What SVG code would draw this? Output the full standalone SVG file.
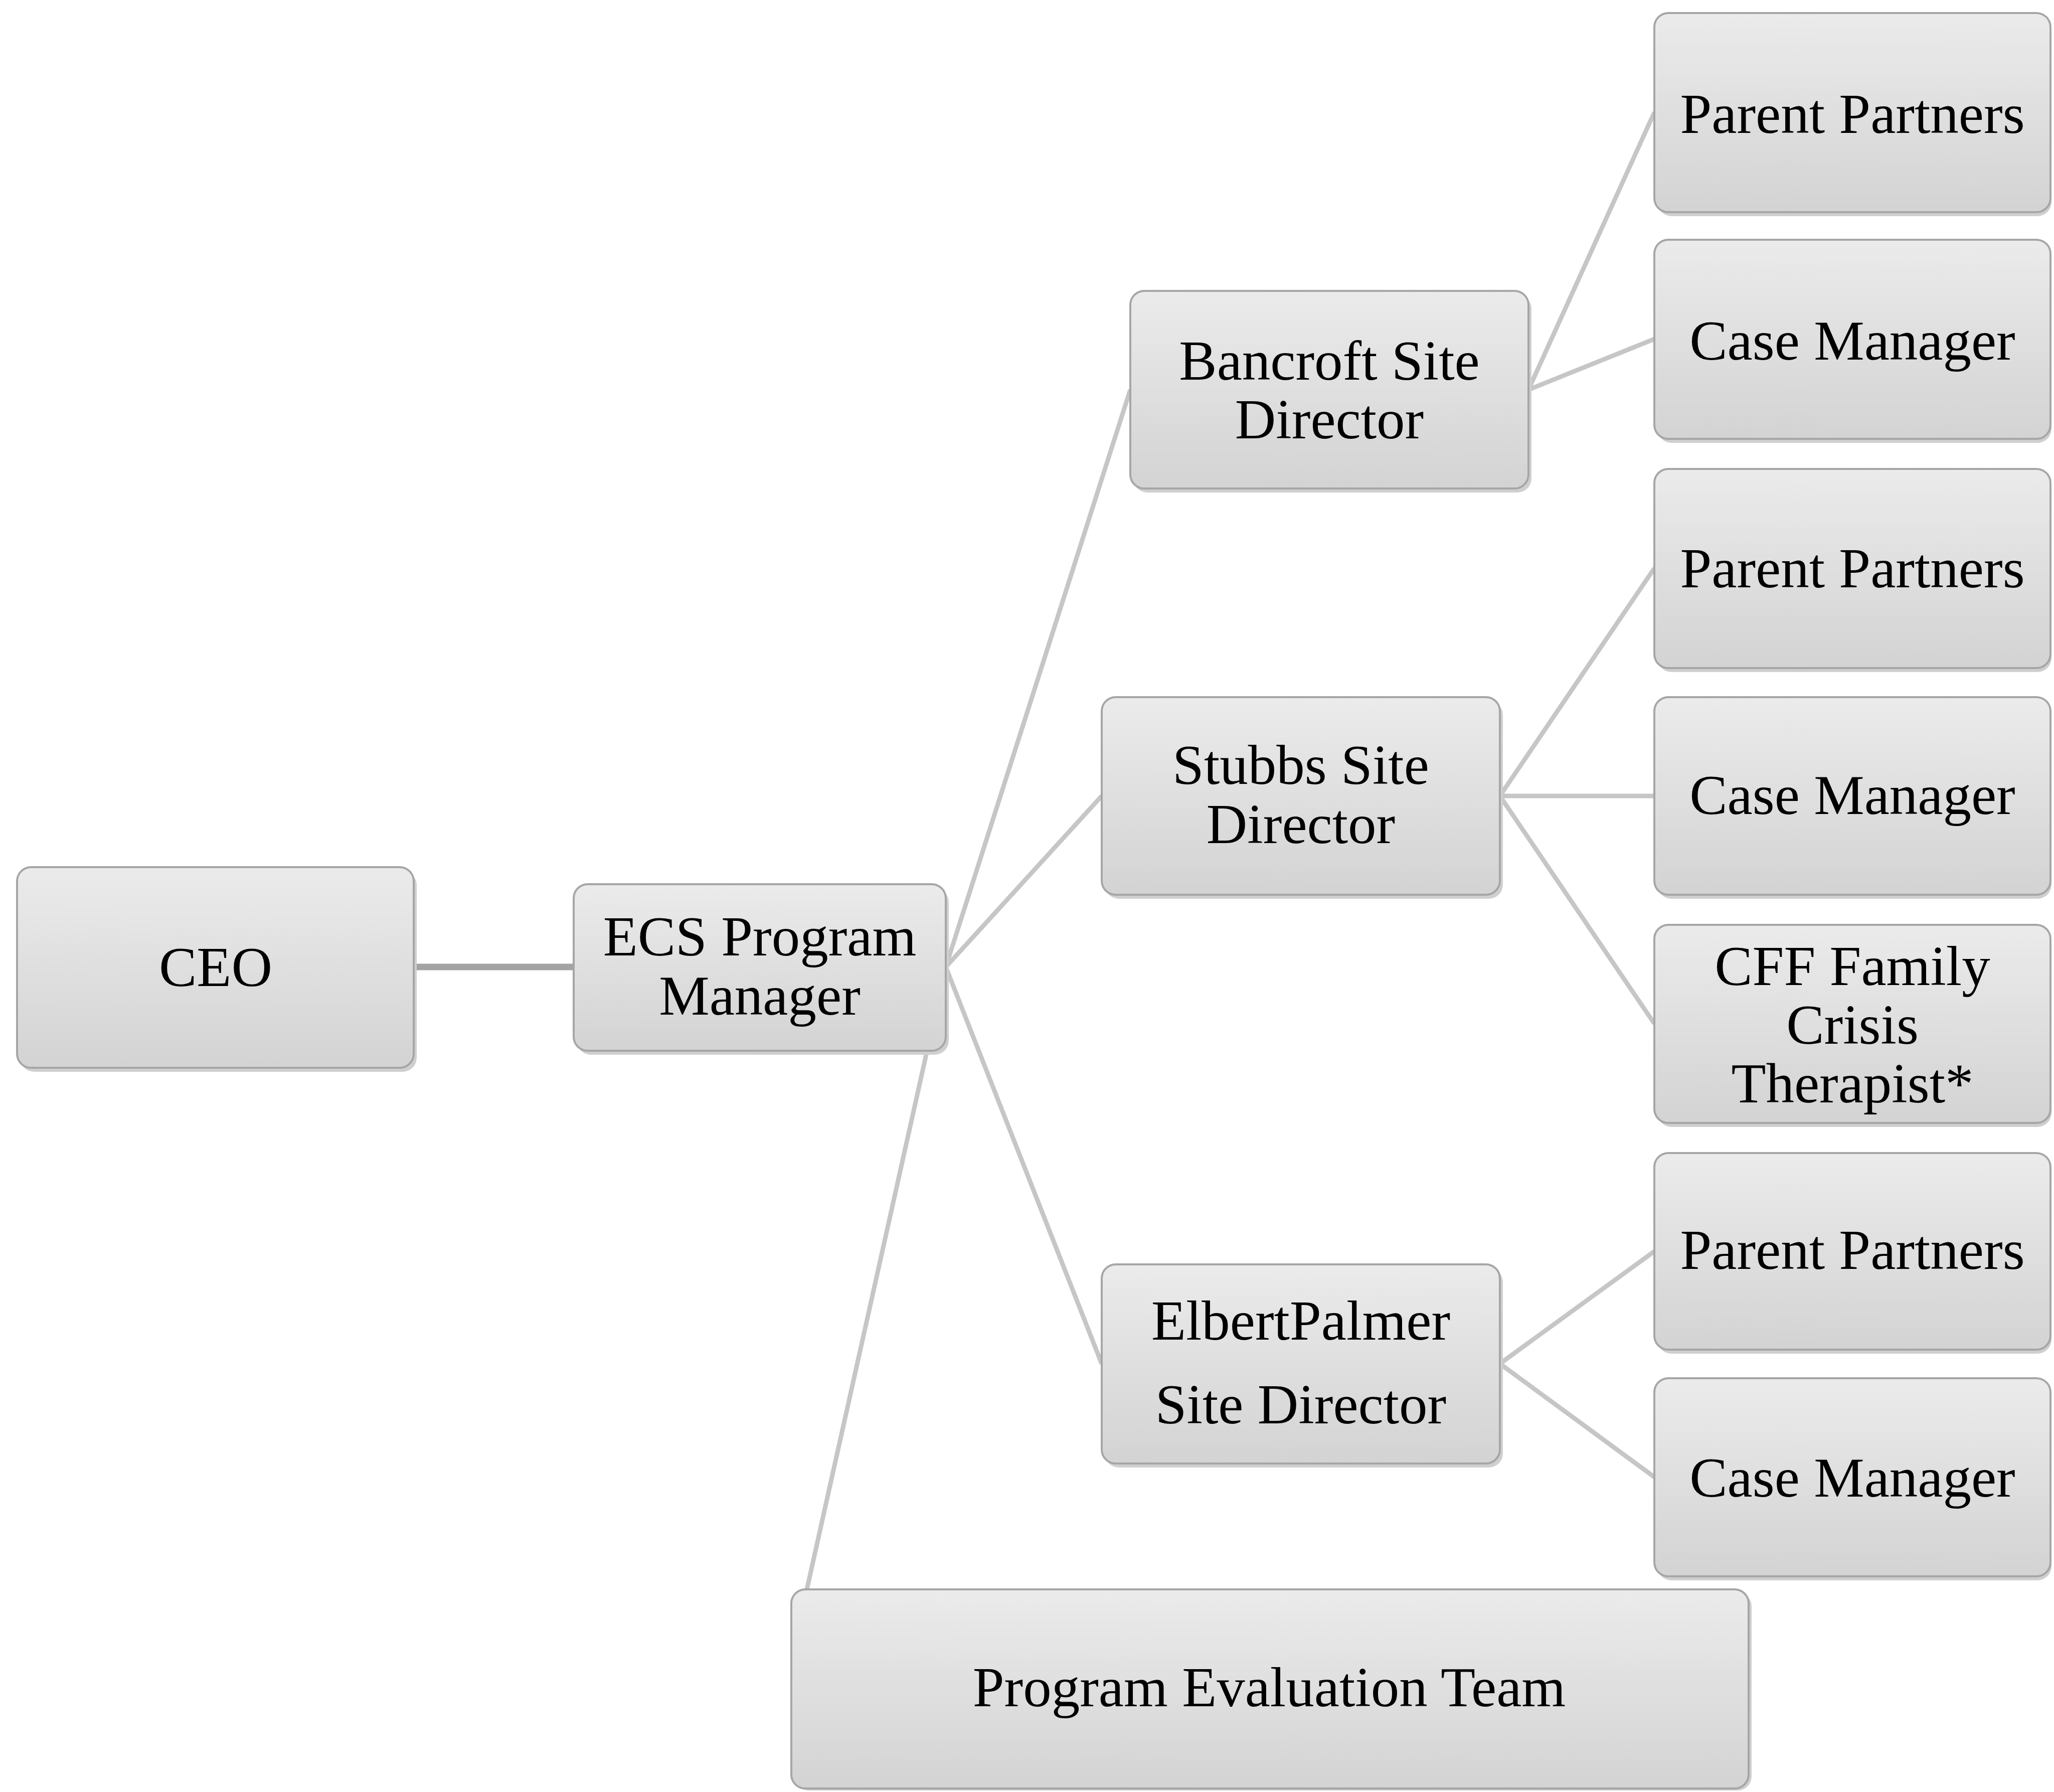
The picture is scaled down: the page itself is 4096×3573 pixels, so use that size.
<svg xmlns="http://www.w3.org/2000/svg" width="4096" height="3573" viewBox="0 0 4096 3573">
<defs>
<linearGradient id="fillg" x1="0" y1="0" x2="0" y2="1">
<stop offset="0" stop-color="#ebebeb"/>
<stop offset="1" stop-color="#d3d3d3"/>
</linearGradient>
</defs>
<style>
.box{fill:url(#fillg);stroke:#a6a6a6;stroke-width:4}
.shadow{fill:#cfcfcf}
.conn{stroke:#c6c6c6;stroke-width:9;fill:none;stroke-linecap:butt}
.main{stroke:#a3a3a3;stroke-width:13}
text{font-family:"Liberation Serif","Times New Roman",serif;font-size:113px;fill:#000;text-anchor:middle}
</style>
<rect width="4096" height="3573" fill="#ffffff"/>
<g id="connectors">
<line class="conn main" x1="825" y1="1928" x2="1144" y2="1928"/>
<line class="conn" x1="1886" y1="1928" x2="2254" y2="777"/>
<line class="conn" x1="1886" y1="1928" x2="2197" y2="1587"/>
<line class="conn" x1="1886" y1="1928" x2="2197" y2="2719"/>
<line class="conn" x1="1886" y1="1928" x2="1609" y2="3169"/>
<line class="conn" x1="3048" y1="777" x2="3299" y2="224"/>
<line class="conn" x1="3048" y1="777" x2="3299" y2="676"/>
<line class="conn" x1="2991" y1="1587" x2="3299" y2="1133"/>
<line class="conn" x1="2991" y1="1587" x2="3299" y2="1587"/>
<line class="conn" x1="2991" y1="1587" x2="3299" y2="2041"/>
<line class="conn" x1="2991" y1="2719" x2="3299" y2="2495"/>
<line class="conn" x1="2991" y1="2719" x2="3299" y2="2945"/>
</g>
<g id="ceo">
<rect class="shadow" x="40" y="1737" width="791" height="400" rx="28"/>
<rect class="box" x="34" y="1729" width="791" height="400" rx="28"/>
<text x="430" y="1966">CEO</text>
</g>
<g id="ecs">
<rect class="shadow" x="1150" y="1771" width="742" height="332" rx="28"/>
<rect class="box" x="1144" y="1763" width="742" height="332" rx="28"/>
<text x="1515" y="1905">ECS Program</text>
<text x="1515" y="2023">Manager</text>
</g>
<g id="bancroft">
<rect class="shadow" x="2260" y="588" width="794" height="394" rx="28"/>
<rect class="box" x="2254" y="580" width="794" height="394" rx="28"/>
<text x="2651" y="757">Bancroft Site</text>
<text x="2651" y="874">Director</text>
</g>
<g id="stubbs">
<rect class="shadow" x="2203" y="1398" width="794" height="394" rx="28"/>
<rect class="box" x="2197" y="1390" width="794" height="394" rx="28"/>
<text x="2594" y="1563">Stubbs Site</text>
<text x="2594" y="1681">Director</text>
</g>
<g id="elbertpalmer">
<rect class="shadow" x="2203" y="2529" width="794" height="397" rx="28"/>
<rect class="box" x="2197" y="2521" width="794" height="397" rx="28"/>
<text x="2594" y="2671">ElbertPalmer</text>
<text x="2594" y="2838">Site Director</text>
</g>
<g id="pet">
<rect class="shadow" x="1584" y="3175" width="1909" height="395" rx="28"/>
<rect class="box" x="1578" y="3169" width="1909" height="397" rx="28"/>
<text x="2531" y="3402">Program Evaluation Team</text>
</g>
<g id="pp1">
<rect class="shadow" x="3305" y="34" width="786" height="397" rx="28"/>
<rect class="box" x="3299" y="26" width="790" height="397" rx="28"/>
<text x="3694" y="265">Parent Partners</text>
</g>
<g id="cm1">
<rect class="shadow" x="3305" y="486" width="786" height="397" rx="28"/>
<rect class="box" x="3299" y="478" width="790" height="397" rx="28"/>
<text x="3694" y="717">Case Manager</text>
</g>
<g id="pp2">
<rect class="shadow" x="3305" y="943" width="786" height="397" rx="28"/>
<rect class="box" x="3299" y="935" width="790" height="397" rx="28"/>
<text x="3694" y="1171">Parent Partners</text>
</g>
<g id="cm2">
<rect class="shadow" x="3305" y="1398" width="786" height="394" rx="28"/>
<rect class="box" x="3299" y="1390" width="790" height="394" rx="28"/>
<text x="3694" y="1623">Case Manager</text>
</g>
<g id="cff">
<rect class="shadow" x="3305" y="1852" width="786" height="395" rx="28"/>
<rect class="box" x="3299" y="1844" width="790" height="395" rx="28"/>
<text x="3694" y="1964">CFF Family</text>
<text x="3694" y="2081">Crisis</text>
<text x="3694" y="2198">Therapist*</text>
</g>
<g id="pp3">
<rect class="shadow" x="3305" y="2307" width="786" height="392" rx="28"/>
<rect class="box" x="3299" y="2299" width="790" height="392" rx="28"/>
<text x="3694" y="2530">Parent Partners</text>
</g>
<g id="cm3">
<rect class="shadow" x="3305" y="2756" width="786" height="395" rx="28"/>
<rect class="box" x="3299" y="2748" width="790" height="395" rx="28"/>
<text x="3694" y="2984">Case Manager</text>
</g>
</svg>
